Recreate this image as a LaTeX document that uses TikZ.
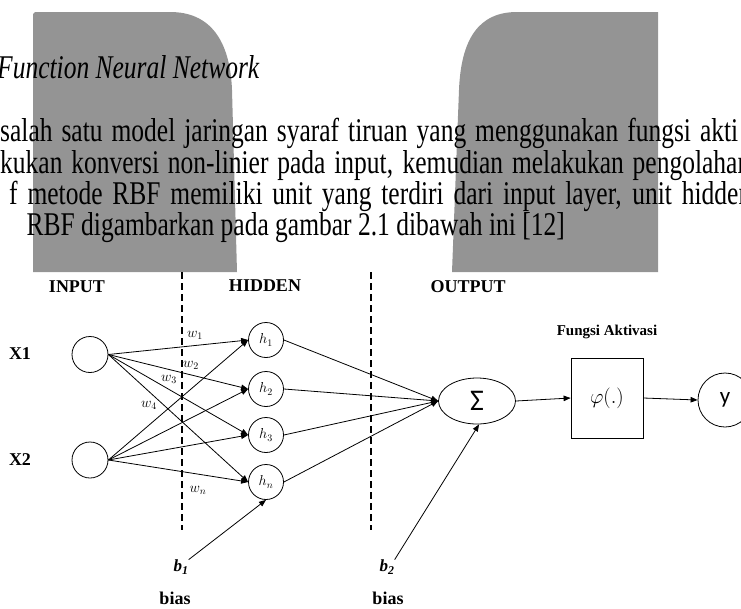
\documentclass[tikz,border=0pt]{standalone}
\usepackage{fontspec}
\usepackage{graphicx}
\setmainfont{Liberation Serif}
\newfontfamily\calib{Carlito}
\usetikzlibrary{arrows.meta,shapes.geometric}
\definecolor{wm}{RGB}{148,148,148}
\newcommand{\tallline}[1]{\scalebox{1}[1.3]{#1}}
\begin{document}
\begin{tikzpicture}[x=1pt,y=-1pt,
  bodytext/.style={anchor=base west,inner sep=0pt,font=\fontsize{25.5}{30}\selectfont},
  neuron/.style={draw,circle,minimum size=36pt,inner sep=0pt,line width=0.8pt},
  hid/.style={draw,circle,minimum size=35pt,inner sep=0pt,line width=0.8pt,font=\fontsize{14}{15}\selectfont},
  arr/.style={-{Triangle[length=7pt,width=5.5pt]},line width=0.8pt},
  lbl/.style={font=\fontsize{18}{20}\selectfont\bfseries,inner sep=0pt},
  wlab/.style={font=\fontsize{14}{15}\selectfont,inner sep=0pt},
  blab/.style={font=\fontsize{17}{18}\selectfont\bfseries\itshape,inner sep=0pt},
  sep/.style={line width=1.1pt,dash pattern=on 7pt off 4pt}]
\useasboundingbox (0,0) rectangle (741,608);
\clip (0,0) rectangle (741,608);
% watermark shapes
\fill[wm] (33,272) -- (33,14) -- (35,12) -- (170,12) .. controls (210,12) and (230,40) .. (232,90) -- (237,272) -- cycle;
\fill[wm] (658,272) -- (658,12) -- (517,12) .. controls (478,12) and (461,40) .. (459,90) -- (452,272) -- cycle;
% page text
\node[bodytext,font=\fontsize{25.5}{30}\selectfont\itshape] (title) at (-3,78) {\tallline{Function Neural Network}};
\node[bodytext] (l1) at (0,141) {\tallline{\makebox[738pt][s]{salah satu model jaringan syaraf tiruan yang menggunakan fungsi akti}}};
\node[bodytext] (l2) at (0,173) {\tallline{\makebox[750pt][s]{kukan konversi non-linier pada input, kemudian melakukan pengolahan}}};
\node[bodytext] (l3) at (9,204) {\tallline{\makebox[742pt][s]{f metode RBF memiliki unit yang terdiri dari input layer, unit hidden}}};
\node[bodytext,anchor=base east] (l4) at (565,235) {\tallline{RBF digambarkan pada gambar 2.1 dibawah ini [12]}};
% separators
\draw[sep] (182,272) -- (182,530);
\draw[sep] (371,272) -- (371,530);
% headings
\node[lbl] (tin) at (77,287) {INPUT};
\node[lbl] (thid) at (265,286) {HIDDEN};
\node[lbl] (tout) at (468,287) {OUTPUT};
\node[lbl] (tx1) at (20,354) {X1};
\node[lbl] (tx2) at (20,460) {X2};
% neurons
\node[neuron] (x1) at (90,354.5) {};
\node[neuron] (x2) at (90,460) {};
\node[hid] (h1) at (266,340) {$h_1$};
\node[hid] (h2) at (266,389) {$h_2$};
\node[hid] (h3) at (266,435) {$h_3$};
\node[hid] (hn) at (266,482) {$h_n$};
\node[draw,ellipse,minimum width=77pt,minimum height=46pt,inner sep=0pt,line width=0.8pt,font=\calib\fontsize{30}{32}\selectfont] (sum) at (477,401) {Σ};
\node[draw,rectangle,minimum width=72pt,minimum height=80pt,inner sep=0pt,line width=0.8pt,font=\fontsize{22}{24}\selectfont] (phi) at (607,398) {$\varphi(.)$};
\node[draw,circle,minimum size=54pt,inner sep=0pt,line width=0.8pt,font=\calib\fontsize{23}{25}\selectfont] (yout) at (725,400) {y};
\node[font=\fontsize{15}{17}\selectfont\bfseries,inner sep=0pt] (fa) at (607,332) {Fungsi Aktivasi};
% connections
\foreach \h in {h1,h2,h3,hn}{
  \draw[arr] (x1.east) -- (\h.west);
  \draw[arr] (x2.east) -- (\h.west);
  \draw[arr] (\h.east) -- (sum.west);
}
\draw[arr] (sum.east) -- (phi.west);
\draw[arr] (phi.east) -- (yout.west);
% weights
\node[wlab] (w1) at (195,335) {$w_1$};
\node[wlab] (w2) at (191,365) {$w_2$};
\node[wlab] (w3) at (169,379) {$w_3$};
\node[wlab] (w4) at (149,405) {$w_4$};
\node[wlab] (wn) at (198,490) {$w_n$};
% biases
\node[blab] (b1) at (181,567) {b\textsubscript{1}};
\node[blab] (b2) at (387,567) {b\textsubscript{2}};
\draw[arr] (b1.north east) -- (hn.south);
\draw[arr] (b2.north east) -- (sum.-85);
\node[lbl] (bias1) at (175,598) {bias};
\node[lbl] (bias2) at (388,598) {bias};
\end{tikzpicture}
\end{document}
